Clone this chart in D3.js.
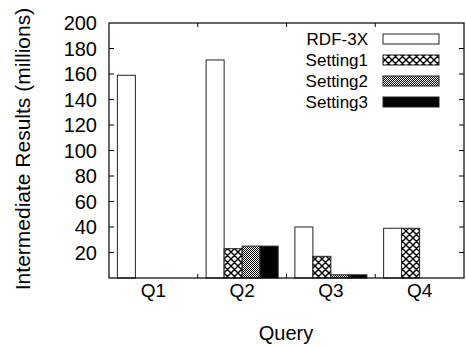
<!DOCTYPE html>
<html>
<head>
<meta charset="utf-8">
<script src="https://cdn.jsdelivr.net/npm/d3@7"></script>
<style>
body { margin: 0; background: #fff; }
text { font-family: "Liberation Sans", Arial, Helvetica, sans-serif; }
</style>
</head>
<body>
<div id="chart"></div>
<script>
var queries = ["Q1", "Q2", "Q3", "Q4"];
var seriesNames = ["RDF-3X", "Setting1", "Setting2", "Setting3"];
var rdf3x = [159, 171, 40, 39];
var setting1 = [0, 23, 17, 39];
var setting2 = [0, 25, 2.5, 0];
var setting3 = [0, 25, 2.5, 0];
var yTicks = [20, 40, 60, 80, 100, 120, 140, 160, 180, 200];

var values = [rdf3x, setting1, setting2, setting3];
var fills = ["#fff", "url(#cross)", "url(#checker)", "#000"];

var width = 466, height = 347;
var pLeft = 109, pRight = 464, pTop = 23, pBottom = 278;

var svg = d3.select("#chart")
    .append("svg")
    .attr("width", width)
    .attr("height", height);

// fill patterns
var defs = svg.append("defs");
var cross = defs.append("pattern")
    .attr("id", "cross")
    .attr("patternUnits", "userSpaceOnUse")
    .attr("width", 7)
    .attr("height", 7);
cross.append("rect").attr("width", 7).attr("height", 7).attr("fill", "#fff");
cross.append("path")
    .attr("d", "M0,0L7,7M7,0L0,7M-1,6L1,8M6,-1L8,1M-1,1L1,-1M6,8L8,6")
    .attr("stroke", "#000")
    .attr("stroke-width", 1.4);

var checker = defs.append("pattern")
    .attr("id", "checker")
    .attr("patternUnits", "userSpaceOnUse")
    .attr("width", 2)
    .attr("height", 2);
checker.append("rect").attr("width", 2).attr("height", 2).attr("fill", "#fff");
checker.append("rect").attr("width", 1).attr("height", 1).attr("fill", "#000");
checker.append("rect").attr("x", 1).attr("y", 1).attr("width", 1).attr("height", 1).attr("fill", "#000");

var x = d3.scaleBand()
    .domain(queries)
    .range([pLeft, pRight]);

var barW = 18;
var xs = d3.scaleBand()
    .domain(seriesNames)
    .range([0, barW * 4]);

var y = d3.scaleLinear()
    .domain([0, 200])
    .range([pBottom, pTop]);

// bars
seriesNames.forEach(function (s, si) {
    svg.append("g").selectAll("rect")
        .data(values[si])
        .enter()
        .append("rect")
        .attr("x", function (d, i) { return x(queries[i]) + (x.bandwidth() - barW * 4) / 2 + xs(s); })
        .attr("y", function (d) { return y(d); })
        .attr("width", xs.bandwidth())
        .attr("height", function (d) { return pBottom - y(d); })
        .attr("fill", fills[si])
        .attr("stroke", function (d) { return d > 0 ? "#222" : "none"; })
        .attr("stroke-width", 1);
});

// frame
svg.append("rect")
    .attr("x", pLeft)
    .attr("y", pTop)
    .attr("width", pRight - pLeft)
    .attr("height", pBottom - pTop)
    .attr("fill", "none")
    .attr("stroke", "#000")
    .attr("stroke-width", 1.2);

// y ticks, both sides
yTicks.forEach(function (t) {
    if (t < 200) {
        svg.append("line")
            .attr("x1", pLeft).attr("x2", pLeft + 5)
            .attr("y1", y(t)).attr("y2", y(t))
            .attr("stroke", "#000");
        svg.append("line")
            .attr("x1", pRight).attr("x2", pRight - 5)
            .attr("y1", y(t)).attr("y2", y(t))
            .attr("stroke", "#000");
    }
    svg.append("text")
        .attr("x", 97)
        .attr("y", y(t))
        .attr("dy", "0.35em")
        .attr("text-anchor", "end")
        .attr("font-size", "20px")
        .text(t);
});

// x ticks between groups, top and bottom
queries.slice(1).forEach(function (q) {
    var xt = x(q);
    svg.append("line")
        .attr("x1", xt).attr("x2", xt)
        .attr("y1", pBottom).attr("y2", pBottom - 4)
        .attr("stroke", "#000");
    svg.append("line")
        .attr("x1", xt).attr("x2", xt)
        .attr("y1", pTop).attr("y2", pTop + 4)
        .attr("stroke", "#000");
});

svg.append("g").selectAll("text")
    .data(queries)
    .enter()
    .append("text")
    .attr("x", function (d) { return x(d) + x.bandwidth() / 2; })
    .attr("y", 297)
    .attr("text-anchor", "middle")
    .attr("font-size", "19px")
    .text(function (d) { return d; });

// axis titles
svg.append("text")
    .attr("x", 286)
    .attr("y", 340)
    .attr("text-anchor", "middle")
    .attr("font-size", "20px")
    .text("Query");

svg.append("text")
    .attr("transform", "translate(30,149) rotate(-90)")
    .attr("text-anchor", "middle")
    .attr("font-size", "21px")
    .text("Intermediate Results (millions)");

// legend
var legend = svg.append("g").selectAll("g")
    .data(seriesNames)
    .enter()
    .append("g")
    .attr("transform", function (d, i) { return "translate(0," + (39 + i * 21) + ")"; });
legend.append("text")
    .attr("x", 368)
    .attr("dy", "0.35em")
    .attr("text-anchor", "end")
    .attr("font-size", "17px")
    .text(function (d) { return d; });
legend.append("rect")
    .attr("x", 383)
    .attr("y", -5)
    .attr("width", 56)
    .attr("height", 10)
    .attr("fill", function (d, i) { return fills[i]; })
    .attr("stroke", "#222");
</script>
</body>
</html>
